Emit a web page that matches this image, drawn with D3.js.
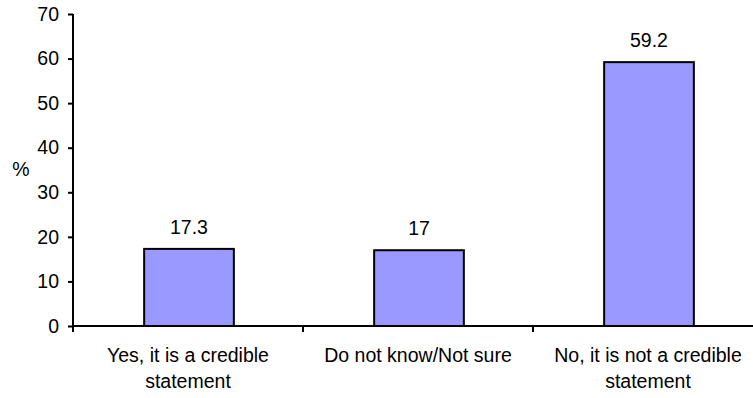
<!DOCTYPE html>
<html>
<head>
<meta charset="utf-8">
<script src="https://cdn.jsdelivr.net/npm/d3@7"></script>
<style>
  html, body { margin: 0; padding: 0; background: #fff; }
  svg { display: block; }
  text { font-family: "Liberation Sans", Arial, sans-serif; fill: #000; }
</style>
</head>
<body>
<svg id="chart" width="753" height="398"></svg>
<script>
const categories = ["Yes, it is a credible statement", "Do not know/Not sure", "No, it is not a credible statement"];
const values = [17.3, 17, 59.2];
const valueLabels = ["17.3", "17", "59.2"];
const yTicks = [0, 10, 20, 30, 40, 50, 60, 70];
const yLabel = "%";

(function () {
const svg = d3.select("#chart");
const mLeft = 73, mRight = 763, mTop = 14, mBottom = 326;
const fontSize = 19.5;
const ff = '"Liberation Sans", Arial, sans-serif';

const x = d3.scaleBand().domain(categories).range([mLeft, mRight])
  .paddingInner(0.61).paddingOuter(0.305);
const y = d3.scaleLinear().domain([0, 70]).range([mBottom, mTop]);

// bars
svg.selectAll("rect.bar").data(values).enter().append("rect")
  .attr("class", "bar")
  .attr("x", (d, i) => x(categories[i]) + 1)
  .attr("y", d => y(d))
  .attr("width", x.bandwidth())
  .attr("height", d => y(0) - y(d))
  .attr("fill", "#9999FF")
  .attr("stroke", "#000")
  .attr("stroke-width", 2);

// value labels
svg.selectAll("text.val").data(values).enter().append("text")
  .attr("class", "val")
  .attr("x", (d, i) => x(categories[i]) + 1 + x.bandwidth() / 2)
  .attr("y", d => y(d) - 15)
  .attr("text-anchor", "middle")
  .style("font-size", fontSize + "px")
  .text((d, i) => valueLabels[i]);

// y axis
const yAxis = d3.axisLeft(y).tickValues(yTicks).tickSize(5).tickPadding(9).tickFormat(d3.format("d"));
const gy = svg.append("g").attr("transform", `translate(${mLeft},0)`).call(yAxis);
gy.select(".domain").attr("stroke", "#000").attr("stroke-width", 2).attr("d", `M0,${mTop}V${mBottom}`);
gy.selectAll(".tick line").attr("stroke", "#000").attr("stroke-width", 2);
gy.selectAll(".tick text").style("font-size", fontSize + "px").style("font-family", ff);

// x axis
const xAxis = d3.axisBottom(x).tickSize(0).tickPadding(0);
const gx = svg.append("g").attr("transform", `translate(0,${mBottom})`).call(xAxis);
gx.select(".domain").attr("stroke", "#000").attr("stroke-width", 2).attr("d", `M${mLeft},0H${mRight}`);
gx.selectAll(".tick line").remove();

// category boundary ticks
const step = x.step();
const bounds = d3.range(categories.length + 1).map(i => mLeft + i * step);
gx.selectAll("line.bound").data(bounds).enter().append("line")
  .attr("class", "bound")
  .attr("x1", d => d).attr("x2", d => d)
  .attr("y1", 0).attr("y2", 6)
  .attr("stroke", "#000").attr("stroke-width", 2);

// wrap category labels
gx.selectAll(".tick text").each(function(d) {
  const t = d3.select(this);
  t.text(null).attr("y", 0).attr("dy", null)
    .style("font-size", fontSize + "px").style("font-family", ff);
  const words = d.split(" ");
  let lines = [], line = [];
  const tmp = t.append("tspan");
  words.forEach(w => {
    line.push(w);
    tmp.text(line.join(" "));
    if (tmp.node().getComputedTextLength() > 215 && line.length > 1) {
      line.pop();
      lines.push(line.join(" "));
      line = [w];
    }
  });
  lines.push(line.join(" "));
  tmp.remove();
  lines.forEach((l, i) => {
    t.append("tspan").attr("x", 0).attr("y", 36 + i * 26).text(l);
  });
});

// y label
svg.append("text")
  .attr("x", 21).attr("y", (mTop + mBottom) / 2 + 6)
  .attr("text-anchor", "middle")
  .style("font-size", fontSize + "px")
  .text(yLabel);
})();
</script>
</body>
</html>
